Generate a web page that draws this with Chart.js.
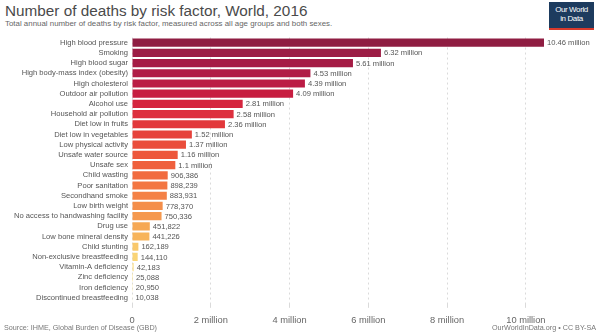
<!DOCTYPE html>
<html>
<head>
<meta charset="utf-8">
<script src="https://cdn.jsdelivr.net/npm/chart.js@4"></script>
<style>
  body { margin: 0; background: #fff; font-family: "Liberation Sans", Arial, sans-serif; }
  #wrap { position: relative; width: 600px; height: 334px; overflow: hidden; }
  #title { position: absolute; left: 5px; top: 2px; font-size: 15.3px; color: #4a4a4a; }
  #subtitle { position: absolute; left: 5px; top: 19px; font-size: 7.9px; color: #666; }
  #logo { position: absolute; left: 549px; top: 2px; width: 45px; height: 28px; background: #1d3b5e;
          border-bottom: 2px solid #d73a2c; color: #fff; font-size: 8px; line-height: 8.5px;
          text-align: center; padding-top: 4px; box-sizing: border-box; letter-spacing: -0.4px; }
  #chartBox { position: absolute; left: 0; top: 29px; width: 600px; height: 304px; }
  #src { position: absolute; left: 4px; top: 323px; font-size: 7.2px; color: #777; }
  #lic { position: absolute; right: 4px; top: 323px; font-size: 7.2px; color: #777; }
</style>
</head>
<body>
<div id="wrap">
  <div id="title">Number of deaths by risk factor, World, 2016</div>
  <div id="subtitle">Total annual number of deaths by risk factor, measured across all age groups and both sexes.</div>
  <div id="logo">Our World<br>in Data</div>
  <div id="chartBox"><canvas id="chart"></canvas></div>
  <div id="src">Source: IHME, Global Burden of Disease (GBD)</div>
  <div id="lic">OurWorldInData.org • CC BY-SA</div>
</div>
<script>
const riskFactors = [
  'High blood pressure', 'Smoking', 'High blood sugar', 'High body-mass index (obesity)',
  'High cholesterol', 'Outdoor air pollution', 'Alcohol use', 'Household air pollution',
  'Diet low in fruits', 'Diet low in vegetables', 'Low physical activity', 'Unsafe water source',
  'Unsafe sex', 'Child wasting', 'Poor sanitation', 'Secondhand smoke', 'Low birth weight',
  'No access to handwashing facility', 'Drug use', 'Low bone mineral density', 'Child stunting',
  'Non-exclusive breastfeeding', 'Vitamin-A deficiency', 'Zinc deficiency', 'Iron deficiency',
  'Discontinued breastfeeding'
];
const deaths = [
  10460000, 6320000, 5610000, 4530000, 4390000, 4090000, 2810000, 2580000, 2360000,
  1520000, 1370000, 1160000, 1100000, 906386, 898239, 883931, 778370, 750336,
  451822, 441226, 162189, 144110, 42183, 25088, 20950, 10038
];
const barColors = [
  '#8f1d42', '#9c1d45', '#a51c45', '#b01c46', '#bb1c45', '#c71d40', '#d5263f', '#dd303e',
  '#e2383b', '#e6423b', '#ea4d3b', '#ed573c', '#ef603d', '#f16b3f', '#f37642', '#f48146',
  '#f48e4a', '#f5994f', '#f6a854', '#f7b45b', '#f9c86b', '#fad475', '#fbde86', '#fbe594',
  '#fcebaa', '#fdf0b8'
];
const xTickValues = [0, 2e6, 4e6, 6e6, 8e6, 10e6];

function fmt(v) {
  if (v >= 1e6) return parseFloat((v / 1e6).toFixed(2)) + ' million';
  return v.toLocaleString('en-US');
}

const valueLabels = {
  id: 'valueLabels',
  afterDatasetsDraw(chart) {
    const c = chart.ctx;
    const meta = chart.getDatasetMeta(0);
    c.save();
    c.font = '7.6px "Liberation Sans", Arial, sans-serif';
    c.fillStyle = '#555';
    c.textBaseline = 'middle';
    meta.data.forEach((bar, i) => {
      c.fillText(fmt(deaths[i]), bar.x + 3, bar.y + 0.5);
    });
    c.restore();
  }
};

new Chart(document.getElementById('chart'), {
  type: 'bar',
  data: {
    labels: riskFactors,
    datasets: [{
      data: deaths,
      backgroundColor: barColors,
      borderWidth: 0,
      categoryPercentage: 0.8,
      barPercentage: 1
    }]
  },
  options: {
    indexAxis: 'y',
    responsive: true,
    maintainAspectRatio: false,
    animation: false,
    layout: { padding: { left: 0, right: 56, top: 2, bottom: 0 } },
    plugins: { legend: { display: false }, tooltip: { enabled: false } },
    scales: {
      x: {
        min: 0,
        max: 10.46e6,
        afterBuildTicks: s => { s.ticks = xTickValues.map(v => ({ value: v })); },
        ticks: {
          callback: v => v === 0 ? '0' : (v / 1e6) + ' million',
          color: '#666',
          font: { family: '"Liberation Sans", Arial, sans-serif', size: 9.3 },
          padding: 7,
          maxRotation: 0
        },
        grid: { color: '#dadada', drawTicks: true, tickLength: 5, tickColor: '#dadada' },
        border: { display: false, dash: [2, 3] }
      },
      y: {
        afterFit: s => { s.width = 132; },
        ticks: {
          color: '#555',
          font: { family: '"Liberation Sans", Arial, sans-serif', size: 7.6 },
          padding: 4,
          crossAlign: 'near',
          autoSkip: false
        },
        grid: { display: false, drawTicks: false },
        border: { display: false }
      }
    }
  },
  plugins: [valueLabels]
});
</script>
</body>
</html>
